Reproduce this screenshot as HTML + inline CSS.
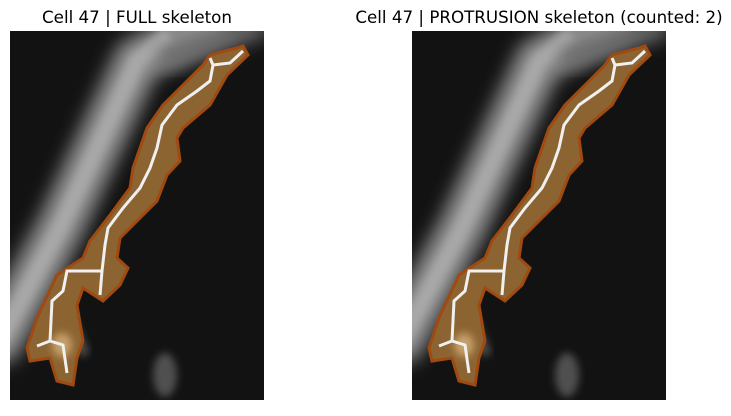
<!DOCTYPE html>
<html><head><meta charset="utf-8"><style>
body{margin:0;background:#fff;width:731px;height:411px;overflow:hidden}
.t{font-family:"DejaVu Sans","Liberation Sans",sans-serif;font-size:16.7px;fill:#000}
</style></head><body>
<svg id="fig" width="731" height="411" xmlns="http://www.w3.org/2000/svg">
<defs>
<filter id="bl" x="-50%" y="-50%" width="200%" height="200%"><feGaussianBlur stdDeviation="9"/></filter>
<filter id="bl2" x="-50%" y="-50%" width="200%" height="200%"><feGaussianBlur stdDeviation="4"/></filter>
<clipPath id="clip"><rect x="10" y="31" width="254" height="369"/></clipPath>
</defs>
<text class="t" x="137" y="23" text-anchor="middle">Cell 47 | FULL skeleton</text>
<text class="t" x="539" y="23" text-anchor="middle">Cell 47 | PROTRUSION skeleton (counted: 2)</text>
<g id="p0"></g>
<g id="p1" transform="translate(402,0)"></g>
</svg>
<script>
const NS="http://www.w3.org/2000/svg";
const outline=[[243,46],[248,55],[227,75],[210,105],[183,128],[177,138],[180,161],[167,175],[157,201],[137,221],[120,238],[117,258],[128,268],[120,285],[103,301],[83,288],[77,305],[83,341],[77,358],[73,385],[57,381],[50,358],[30,361],[27,348],[37,318],[57,275],[83,258],[90,241],[110,215],[130,188],[133,168],[147,128],[163,105],[183,85],[203,65],[210,55],[237,48]];
const skelMain=[[243,51],[230,63],[213,65],[210,81],[197,91],[177,105],[162,125],[157,148],[150,168],[140,188],[123,208],[108,228],[105,245],[102,271],[100,295]];
const skelTop=[[213,65],[210,58]];
const skelBranch=[[102,271],[67,271],[63,291],[52,301],[50,341],[37,346]];
const skelTail=[[50,341],[63,345],[67,373]];
function mk(tag,attrs,parent){const e=document.createElementNS(NS,tag);for(const k in attrs)e.setAttribute(k,attrs[k]);parent.appendChild(e);return e;}
function pts(a){return a.map(p=>p.join(',')).join(' ');}
[0,1].forEach(i=>{
 const g=document.getElementById('p'+i);
 const c=mk('g',{'clip-path':'url(#clip)'},g);
 const bg=mk('rect',{x:10,y:31,width:254,height:369,fill:'#121212'},c);
 
 
 const band=mk('polyline',{points:'215,20 137,61 60,228 0,340',fill:'none',stroke:'#909090','stroke-width':46,filter:'url(#bl)','stroke-linecap':'round'},c);
 
 
 mk('polyline',{points:'170,35 137,61 60,228 0,340',fill:'none',stroke:'#a8a8a8','stroke-width':16,filter:'url(#bl2)'},c);
 mk('polyline',{points:'160,60 265,25',fill:'none',stroke:'#6a6a6a','stroke-width':22,filter:'url(#bl)'},c);
 mk('polyline',{points:'10,40 10,200',fill:'none',stroke:'#3a3a3a','stroke-width':30,filter:'url(#bl)'},c);
 mk('polyline',{points:'70,320 85,355',fill:'none',stroke:'#505050','stroke-width':10,filter:'url(#bl2)'},c);
 mk('ellipse',{cx:165,cy:375,rx:12,ry:22,fill:'#505050',filter:'url(#bl2)'},c);
 const cell=mk('polygon',{points:pts(outline),fill:'#8c6432',stroke:'#a04a12','stroke-width':3,'stroke-linejoin':'miter'},c);
 
 
 mk('ellipse',{cx:62,cy:345,rx:10,ry:12,fill:'#c8a06a',filter:'url(#bl2)'},c);
 [skelMain,skelTop,skelBranch,skelTail].forEach(s=>{
  const l=mk('polyline',{points:pts(s),fill:'none',stroke:'#f0f0f0','stroke-width':3,'stroke-linejoin':'miter'},c);
  
  
 });
});
</script>
</body></html>
